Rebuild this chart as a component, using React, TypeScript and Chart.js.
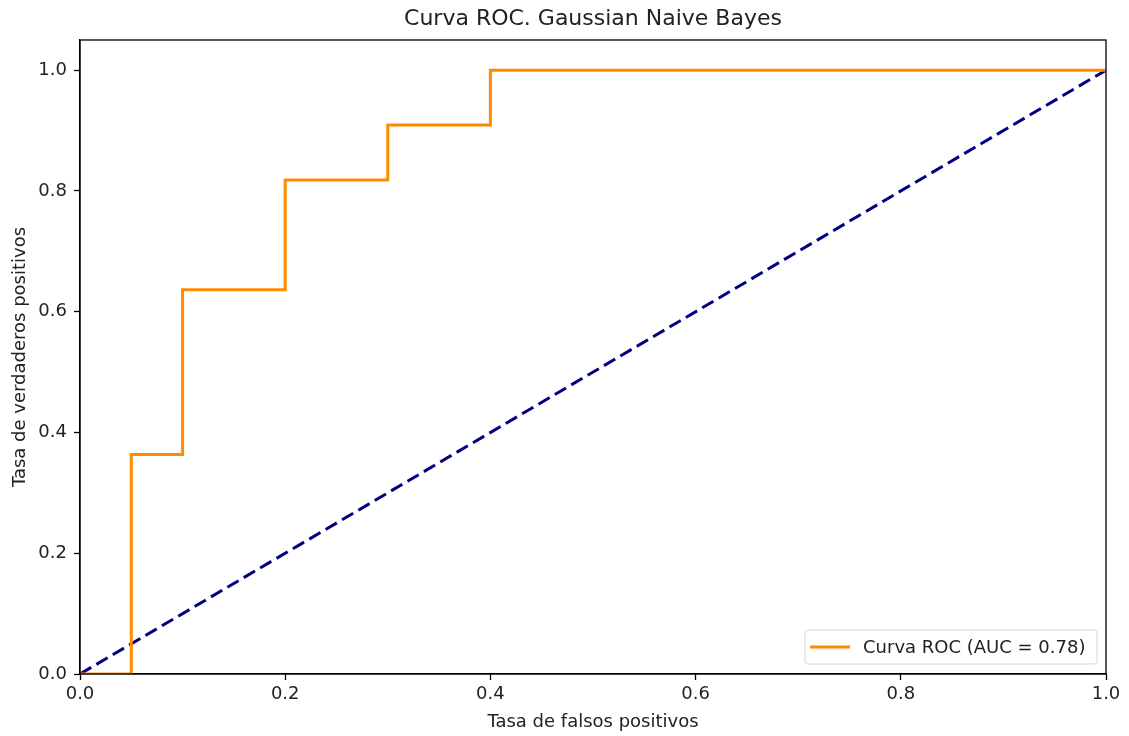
import React, { useEffect, useRef } from "react";
import { Chart, registerables } from "chart.js";

Chart.register(...registerables);

const chartTitle = "Curva ROC. Gaussian Naive Bayes";
const xAxisLabel = "Tasa de falsos positivos";
const yAxisLabel = "Tasa de verdaderos positivos";
const rocLabel = "Curva ROC (AUC = 0.78)";

const fpr = [0, 0.05, 0.05, 0.1, 0.1, 0.2, 0.2, 0.3, 0.3, 0.4, 0.4, 1.0];
const tpr = [0, 0, 0.3636, 0.3636, 0.6364, 0.6364, 0.8182, 0.8182, 0.9091, 0.9091, 1.0, 1.0];
const diagX = [0, 1];
const diagY = [0, 1];
const xTicks = [0, 0.2, 0.4, 0.6, 0.8, 1.0];
const yTicks = [0, 0.2, 0.4, 0.6, 0.8, 1.0];

const FONT = "'DejaVu Sans', sans-serif";
const TEXT = "#222";

const framePlugin = {
  id: "frame",
  afterDraw(chart: any) {
    const { ctx, chartArea: a } = chart;
    ctx.save();
    ctx.strokeStyle = "#000";
    ctx.lineWidth = 1.3;
    ctx.strokeRect(a.left, a.top, a.right - a.left, a.bottom - a.top);

    // title centred over the axes
    ctx.fillStyle = TEXT;
    ctx.font = `22px ${FONT}`;
    ctx.textAlign = "center";
    ctx.textBaseline = "middle";
    ctx.fillText(chartTitle, (a.left + a.right) / 2, 19);

    // legend
    const ds = chart.data.datasets[0];
    const bx = 805, by = 630, bw = 292, bh = 34;
    const r = 3;
    ctx.beginPath();
    ctx.moveTo(bx + r, by);
    ctx.lineTo(bx + bw - r, by);
    ctx.quadraticCurveTo(bx + bw, by, bx + bw, by + r);
    ctx.lineTo(bx + bw, by + bh - r);
    ctx.quadraticCurveTo(bx + bw, by + bh, bx + bw - r, by + bh);
    ctx.lineTo(bx + r, by + bh);
    ctx.quadraticCurveTo(bx, by + bh, bx, by + bh - r);
    ctx.lineTo(bx, by + r);
    ctx.quadraticCurveTo(bx, by, bx + r, by);
    ctx.closePath();
    ctx.fillStyle = "rgba(255,255,255,0.8)";
    ctx.fill();
    ctx.strokeStyle = "#d6d6d6";
    ctx.lineWidth = 1;
    ctx.stroke();
    const ly = by + bh / 2;
    ctx.beginPath();
    ctx.moveTo(810, ly);
    ctx.lineTo(850, ly);
    ctx.strokeStyle = ds.borderColor;
    ctx.lineWidth = 3;
    ctx.stroke();
    ctx.fillStyle = TEXT;
    ctx.font = `18px ${FONT}`;
    ctx.textBaseline = "middle";
    ctx.textAlign = "left";
    ctx.fillText(ds.label, 863, ly + 1);
    ctx.restore();
  },
};

export default function App() {
  const ref = useRef<HTMLCanvasElement | null>(null);
  useEffect(() => {
    if (!ref.current) return;
    const chart = new Chart(ref.current, {
      type: "line",
      data: {
        datasets: [
          {
            label: rocLabel,
            data: fpr.map((x, i) => ({ x, y: tpr[i] })),
            borderColor: "#ff8c00",
            borderWidth: 3,
            pointRadius: 0,
            fill: false,
            tension: 0,
          },
          {
            label: "",
            data: diagX.map((x, i) => ({ x, y: diagY[i] })),
            borderColor: "#000080",
            borderWidth: 3,
            borderDash: [13, 6],
            pointRadius: 0,
            fill: false,
            tension: 0,
          },
        ],
      },
      options: {
        responsive: false,
        animation: false,
        devicePixelRatio: 1,
        layout: { padding: { top: 40, right: 23, left: 0, bottom: 0 } },
        plugins: {
          legend: { display: false },
          tooltip: { enabled: false },
          title: { display: false },
        },
        scales: {
          x: {
            type: "linear",
            min: 0,
            max: 1,
            afterFit: (s: any) => {
              s.height = 62;
            },
            afterBuildTicks: (s: any) => {
              s.ticks = xTicks.map((v) => ({ value: v }));
            },
            ticks: {
              color: TEXT,
              font: { family: FONT, size: 18 },
              padding: 4,
              maxRotation: 0,
              callback: (v: any) => Number(v).toFixed(1),
            },
            grid: {
              display: true,
              drawOnChartArea: false,
              tickLength: 6,
              tickColor: "#000",
              tickWidth: 1.3,
            },
            border: { display: true, color: "#000", width: 1.3 },
            title: {
              display: true,
              text: xAxisLabel,
              color: TEXT,
              font: { family: FONT, size: 18 },
              padding: { top: 3.2, bottom: 3.2 },
            },
          },
          y: {
            type: "linear",
            min: 0,
            max: 1.05,
            afterFit: (s: any) => {
              s.width = 80;
            },
            afterBuildTicks: (s: any) => {
              s.ticks = yTicks.map((v) => ({ value: v }));
            },
            ticks: {
              color: TEXT,
              font: { family: FONT, size: 18 },
              padding: 7,
              callback: (v: any) => Number(v).toFixed(1),
            },
            grid: {
              display: true,
              drawOnChartArea: false,
              tickLength: 6,
              tickColor: "#000",
              tickWidth: 1.3,
            },
            border: { display: true, color: "#000", width: 1.3 },
            title: {
              display: true,
              text: yAxisLabel,
              color: TEXT,
              font: { family: FONT, size: 18 },
              padding: { top: 9.2, bottom: 9.2 },
            },
          },
        },
      },
      plugins: [framePlugin],
    } as any);
    return () => chart.destroy();
  }, []);
  return (
    <div style={{ position: "absolute", left: 0, top: 0, width: 1129, height: 736, background: "#fff" }}>
      <canvas ref={ref} width={1129} height={736} style={{ display: "block", width: 1129, height: 736 }} />
    </div>
  );
}
